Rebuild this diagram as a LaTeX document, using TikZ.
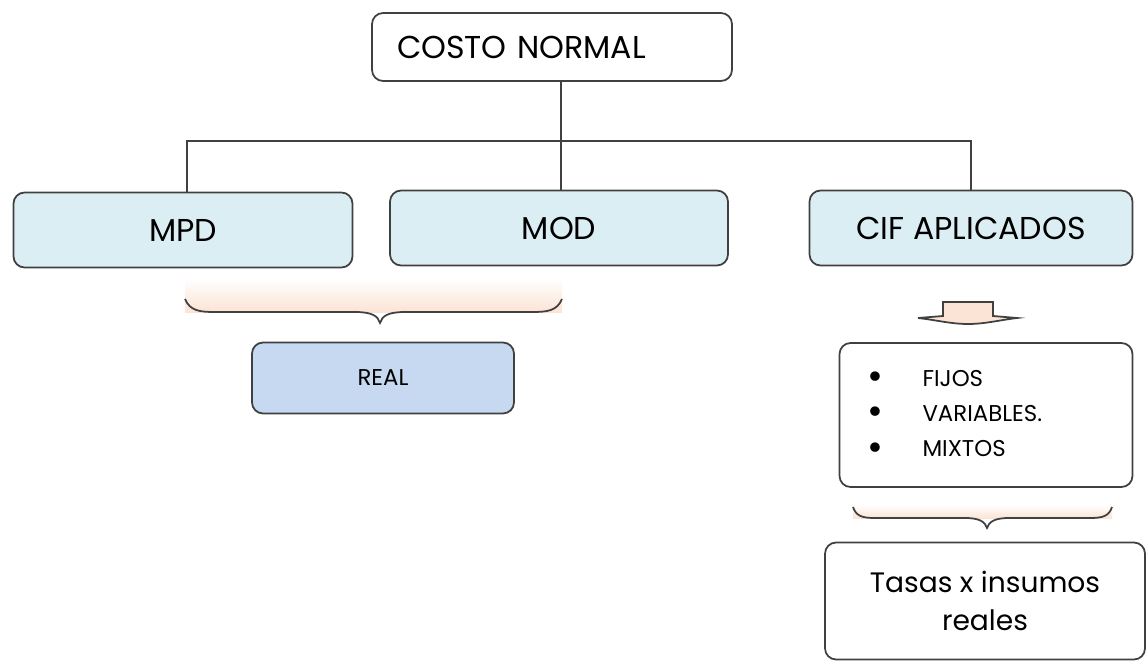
\documentclass[tikz,border=0pt]{standalone}
\usepackage{fontspec}
\setmainfont{Poppins}
\usepackage{xcolor}
\usetikzlibrary{calc}

\definecolor{azulclaro}{HTML}{DBEEF4}
\definecolor{azulreal}{HTML}{C6D9F1}
\definecolor{borde}{HTML}{404040}
\definecolor{durazno}{HTML}{FBE4D5}
\newcommand{\vineta}[1]{\makebox[1.33cm][l]{\hspace{0.22cm}\raisebox{-0.16em}{\fontsize{22}{20}\selectfont\textbullet}}#1}

\begin{document}
\begin{tikzpicture}[
    x=0.02cm, y=-0.02cm,
    caja/.style={rectangle, draw=borde, line width=1pt, rounded corners=0.22cm, fill=white, font=\fontsize{18}{22}\selectfont},
    cajaazul/.style={caja, fill=azulclaro, minimum height=1.5cm},
    cajareal/.style={caja, fill=azulreal, minimum width=5.24cm, minimum height=1.42cm, font=\fontsize{13}{16}\selectfont},
    linea/.style={draw=borde, line width=1pt},
    llave/.style={draw=borde, line width=1pt}
]
    \useasboundingbox (0,0) rectangle (1148,662);

    \node [caja, text width=6.2cm, inner xsep=0.5cm, align=left, minimum height=1.36cm] (costo) at (552,47) {COSTO NORMAL};
    \node [cajaazul, minimum width=6.78cm] (mpd) at (183,230) {MPD};
    \node [cajaazul, minimum width=6.76cm] (mod) at (559,228) {MOD};
    \node [cajaazul, minimum width=6.46cm] (cif) at (971,228) {CIF APLICADOS};
    \node [cajareal] (real) at (383,378) {REAL};
    \node [caja, text width=5.2cm, inner xsep=0.33cm, align=left, minimum height=2.88cm, font=\fontsize{13}{20}\selectfont] (lista) at (986,415)
        {\vineta{FIJOS}\\\vineta{VARIABLES.}\\\vineta{MIXTOS}};
    \node [caja, minimum width=6.4cm, minimum height=2.34cm, align=center, font=\fontsize{16}{22}\selectfont] (tasas) at (985,601)
        {Tasas x insumos\\reales};

    % conectores del arbol
    \coordinate (barra) at (561,141);
    \draw [linea] (costo.south -| barra) -- (mod.north -| barra);
    \draw [linea] (mpd.north -| 187,0) |- (barra) -| (cif.north);

    % llave bajo MPD y MOD
    \shade [top color=white, bottom color=durazno] (185,278) rectangle (562,312);
    \draw [llave] (185,299) .. controls (190,311) and (200,312) .. (215,312) -- (355,312)
        .. controls (372,312) and (378,316) .. (380,323)
        .. controls (382,316) and (388,312) .. (405,312) -- (532,312)
        .. controls (547,312) and (557,311) .. (562,299);

    % flecha bajo CIF APLICADOS
    \draw [llave, fill=durazno] (943,302) -- (993,302) -- (993,316) -- (1017,318)
        .. controls (1000,320) and (985,324) .. (968,324)
        .. controls (951,324) and (936,320) .. (918,318) -- (943,316) -- cycle;

    % llave bajo la lista
    \shade [top color=white, bottom color=durazno] (853,505) rectangle (1112,518);
    \draw [llave] (853,507) .. controls (856,516) and (862,518) .. (875,518) -- (965,518)
        .. controls (980,518) and (985,522) .. (987,528)
        .. controls (989,522) and (994,518) .. (1009,518) -- (1090,518)
        .. controls (1103,518) and (1109,516) .. (1112,507);
\end{tikzpicture}
\end{document}
